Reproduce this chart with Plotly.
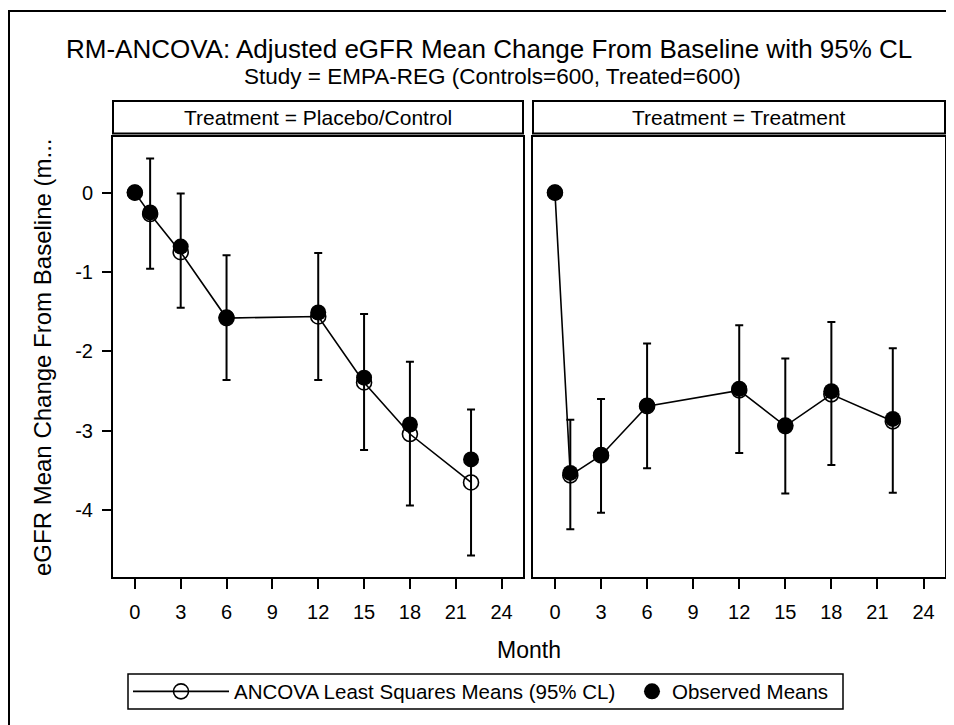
import plotly.graph_objects as go

# ---------------- data ----------------
months = [0, 1, 3, 6, 12, 15, 18, 22]

ls_ctrl = [0, -0.27, -0.75, -1.58, -1.56, -2.39, -3.04, -3.65]
obs_ctrl = [0, -0.25, -0.68, -1.57, -1.51, -2.33, -2.92, -3.36]
ucl_ctrl = [0, 0.43, -0.01, -0.79, -0.76, -1.53, -2.13, -2.73]
lcl_ctrl = [0, -0.96, -1.45, -2.36, -2.36, -3.24, -3.94, -4.57]

ls_trt = [0, -3.56, -3.31, -2.69, -2.49, -2.94, -2.54, -2.88]
obs_trt = [0, -3.53, -3.30, -2.68, -2.47, -2.93, -2.50, -2.85]
ucl_trt = [0, -2.86, -2.60, -1.90, -1.67, -2.09, -1.63, -1.96]
lcl_trt = [0, -4.24, -4.03, -3.47, -3.28, -3.79, -3.43, -3.78]

x_ticks = [0, 3, 6, 9, 12, 15, 18, 21, 24]
y_ticks = [0, -1, -2, -3, -4]
y_ticktext = ["0", "-1", "-2", "-3", "-4"]

panels = ["Treatment = Placebo/Control", "Treatment = Treatment"]
title = "RM-ANCOVA: Adjusted eGFR Mean Change From Baseline with 95% CL"
subtitle = "Study = EMPA-REG (Controls=600, Treated=600)"
ls_name = "ANCOVA Least Squares Means (95% CL)"
obs_name = "Observed Means"
x_title = "Month"
y_title = "eGFR Mean Change From Baseline (m..."

# ---------------- figure ----------------
FONT = "Liberation Sans, Arial, sans-serif"
OFF = 8  # page body margin
W, H = 954 - OFF, 725 - OFF
L, T = 105, 129
R = W - (945 - OFF)
B = H - (577 - OFF)
pw = W - L - R
ph = H - T - B


def px_x(p):
    """reference-picture x pixel -> paper coordinate"""
    return (p - OFF - L) / pw


def px_y(p):
    """reference-picture y pixel -> paper coordinate"""
    return (H - B - (p - OFF)) / ph


fig = go.Figure()

series = [
    (ls_ctrl, obs_ctrl, ucl_ctrl, lcl_ctrl, "x", "y", True),
    (ls_trt, obs_trt, ucl_trt, lcl_trt, "x2", "y2", False),
]
for ls, obs, ucl, lcl, xa, ya, show in series:
    fig.add_trace(go.Scatter(
        x=months, y=ls, mode="lines+markers", name=ls_name,
        xaxis=xa, yaxis=ya, showlegend=show, legend="legend",
        line=dict(color="black", width=1.6),
        marker=dict(symbol="circle-open", size=15, color="black",
                    line=dict(width=1.6, color="black")),
        error_y=dict(type="data", symmetric=False,
                     array=[u - m for u, m in zip(ucl, ls)],
                     arrayminus=[m - lo for m, lo in zip(ls, lcl)],
                     color="black", thickness=2, width=4),
    ))
    fig.add_trace(go.Scatter(
        x=months, y=obs, mode="markers", name=obs_name,
        xaxis=xa, yaxis=ya, showlegend=show, legend="legend2",
        marker=dict(symbol="circle", size=16, color="black"),
    ))

xr = [-1.43, 25.4]
yr = [-4.84, 0.70]
d1 = [0, px_x(523)]
d2 = [px_x(533), 1]

axis_common = dict(showgrid=False, zeroline=False, showline=True, mirror=True,
                   linecolor="black", linewidth=2, ticks="outside",
                   tickcolor="black", tickwidth=2,
                   tickfont=dict(family=FONT, size=20, color="black"))

leg_common = dict(orientation="h", yanchor="middle", y=px_y(691.5),
                  xanchor="left", borderwidth=0, bgcolor="rgba(0,0,0,0)",
                  font=dict(family=FONT, size=20.5, color="black"))

fig.update_layout(
    width=W, height=H,
    margin=dict(l=L, r=R, t=T, b=B, autoexpand=False),
    paper_bgcolor="white", plot_bgcolor="white",
    font=dict(family=FONT, size=20, color="black"),
    xaxis=dict(domain=d1, range=xr, tickvals=x_ticks, ticklen=10,
               ticklabelstandoff=6, anchor="y", **axis_common),
    xaxis2=dict(domain=d2, range=xr, tickvals=x_ticks, ticklen=10,
                ticklabelstandoff=6, anchor="y2", **axis_common),
    yaxis=dict(domain=[0, 1], range=yr, tickvals=y_ticks,
               ticktext=y_ticktext, ticklen=9,
               ticklabelstandoff=5, anchor="x", **axis_common),
    yaxis2=dict(domain=[0, 1], range=yr, tickvals=y_ticks, anchor="x2",
                showticklabels=False,
                **{**axis_common, "ticks": ""}),
    legend=dict(x=px_x(128), itemwidth=96, **leg_common),
    legend2=dict(x=px_x(632), itemwidth=30, **leg_common),
    showlegend=True,
)

shapes = []
annotations = []
# outer frame (only top and left edges are inside the picture)
shapes.append(dict(type="line", xref="paper", yref="paper",
                   x0=px_x(8), x1=px_x(953), y0=px_y(11), y1=px_y(11),
                   line=dict(color="black", width=2), layer="below"))
shapes.append(dict(type="line", xref="paper", yref="paper",
                   x0=px_x(9), x1=px_x(9), y0=px_y(10), y1=px_y(730),
                   line=dict(color="black", width=2), layer="below"))
# legend frame
shapes.append(dict(type="rect", xref="paper", yref="paper",
                   x0=px_x(128), x1=px_x(843), y0=px_y(709), y1=px_y(674),
                   line=dict(color="black", width=1.5)))
# strip boxes
for (x0, x1), lab in zip([d1, d2], panels):
    shapes.append(dict(type="rect", xref="paper", yref="paper",
                       x0=x0, x1=x1, y0=px_y(133.5), y1=px_y(101),
                       line=dict(color="black", width=2),
                       fillcolor="white"))
    annotations.append(dict(text=lab, xref="paper", yref="paper",
                            x=(x0 + x1) / 2, y=px_y(117), xanchor="center",
                            yanchor="middle", showarrow=False,
                            font=dict(family=FONT, size=21, color="black")))

annotations.append(dict(text=title, xref="paper", yref="paper",
                        x=px_x(489), y=px_y(49), xanchor="center",
                        yanchor="middle", showarrow=False,
                        font=dict(family=FONT, size=26, color="black")))
annotations.append(dict(text=subtitle, xref="paper", yref="paper",
                        x=px_x(492), y=px_y(77), xanchor="center",
                        yanchor="middle", showarrow=False,
                        font=dict(family=FONT, size=22.5, color="black")))
annotations.append(dict(text=x_title, xref="paper", yref="paper",
                        x=px_x(529), y=px_y(650), xanchor="center",
                        yanchor="middle", showarrow=False,
                        font=dict(family=FONT, size=23, color="black")))
annotations.append(dict(text=y_title,
                        xref="paper", yref="paper",
                        x=px_x(42), y=px_y(357), xanchor="center",
                        yanchor="middle", showarrow=False, textangle=-90,
                        font=dict(family=FONT, size=24, color="black")))

fig.update_layout(shapes=shapes, annotations=annotations)
fig.write_html("out.html")
